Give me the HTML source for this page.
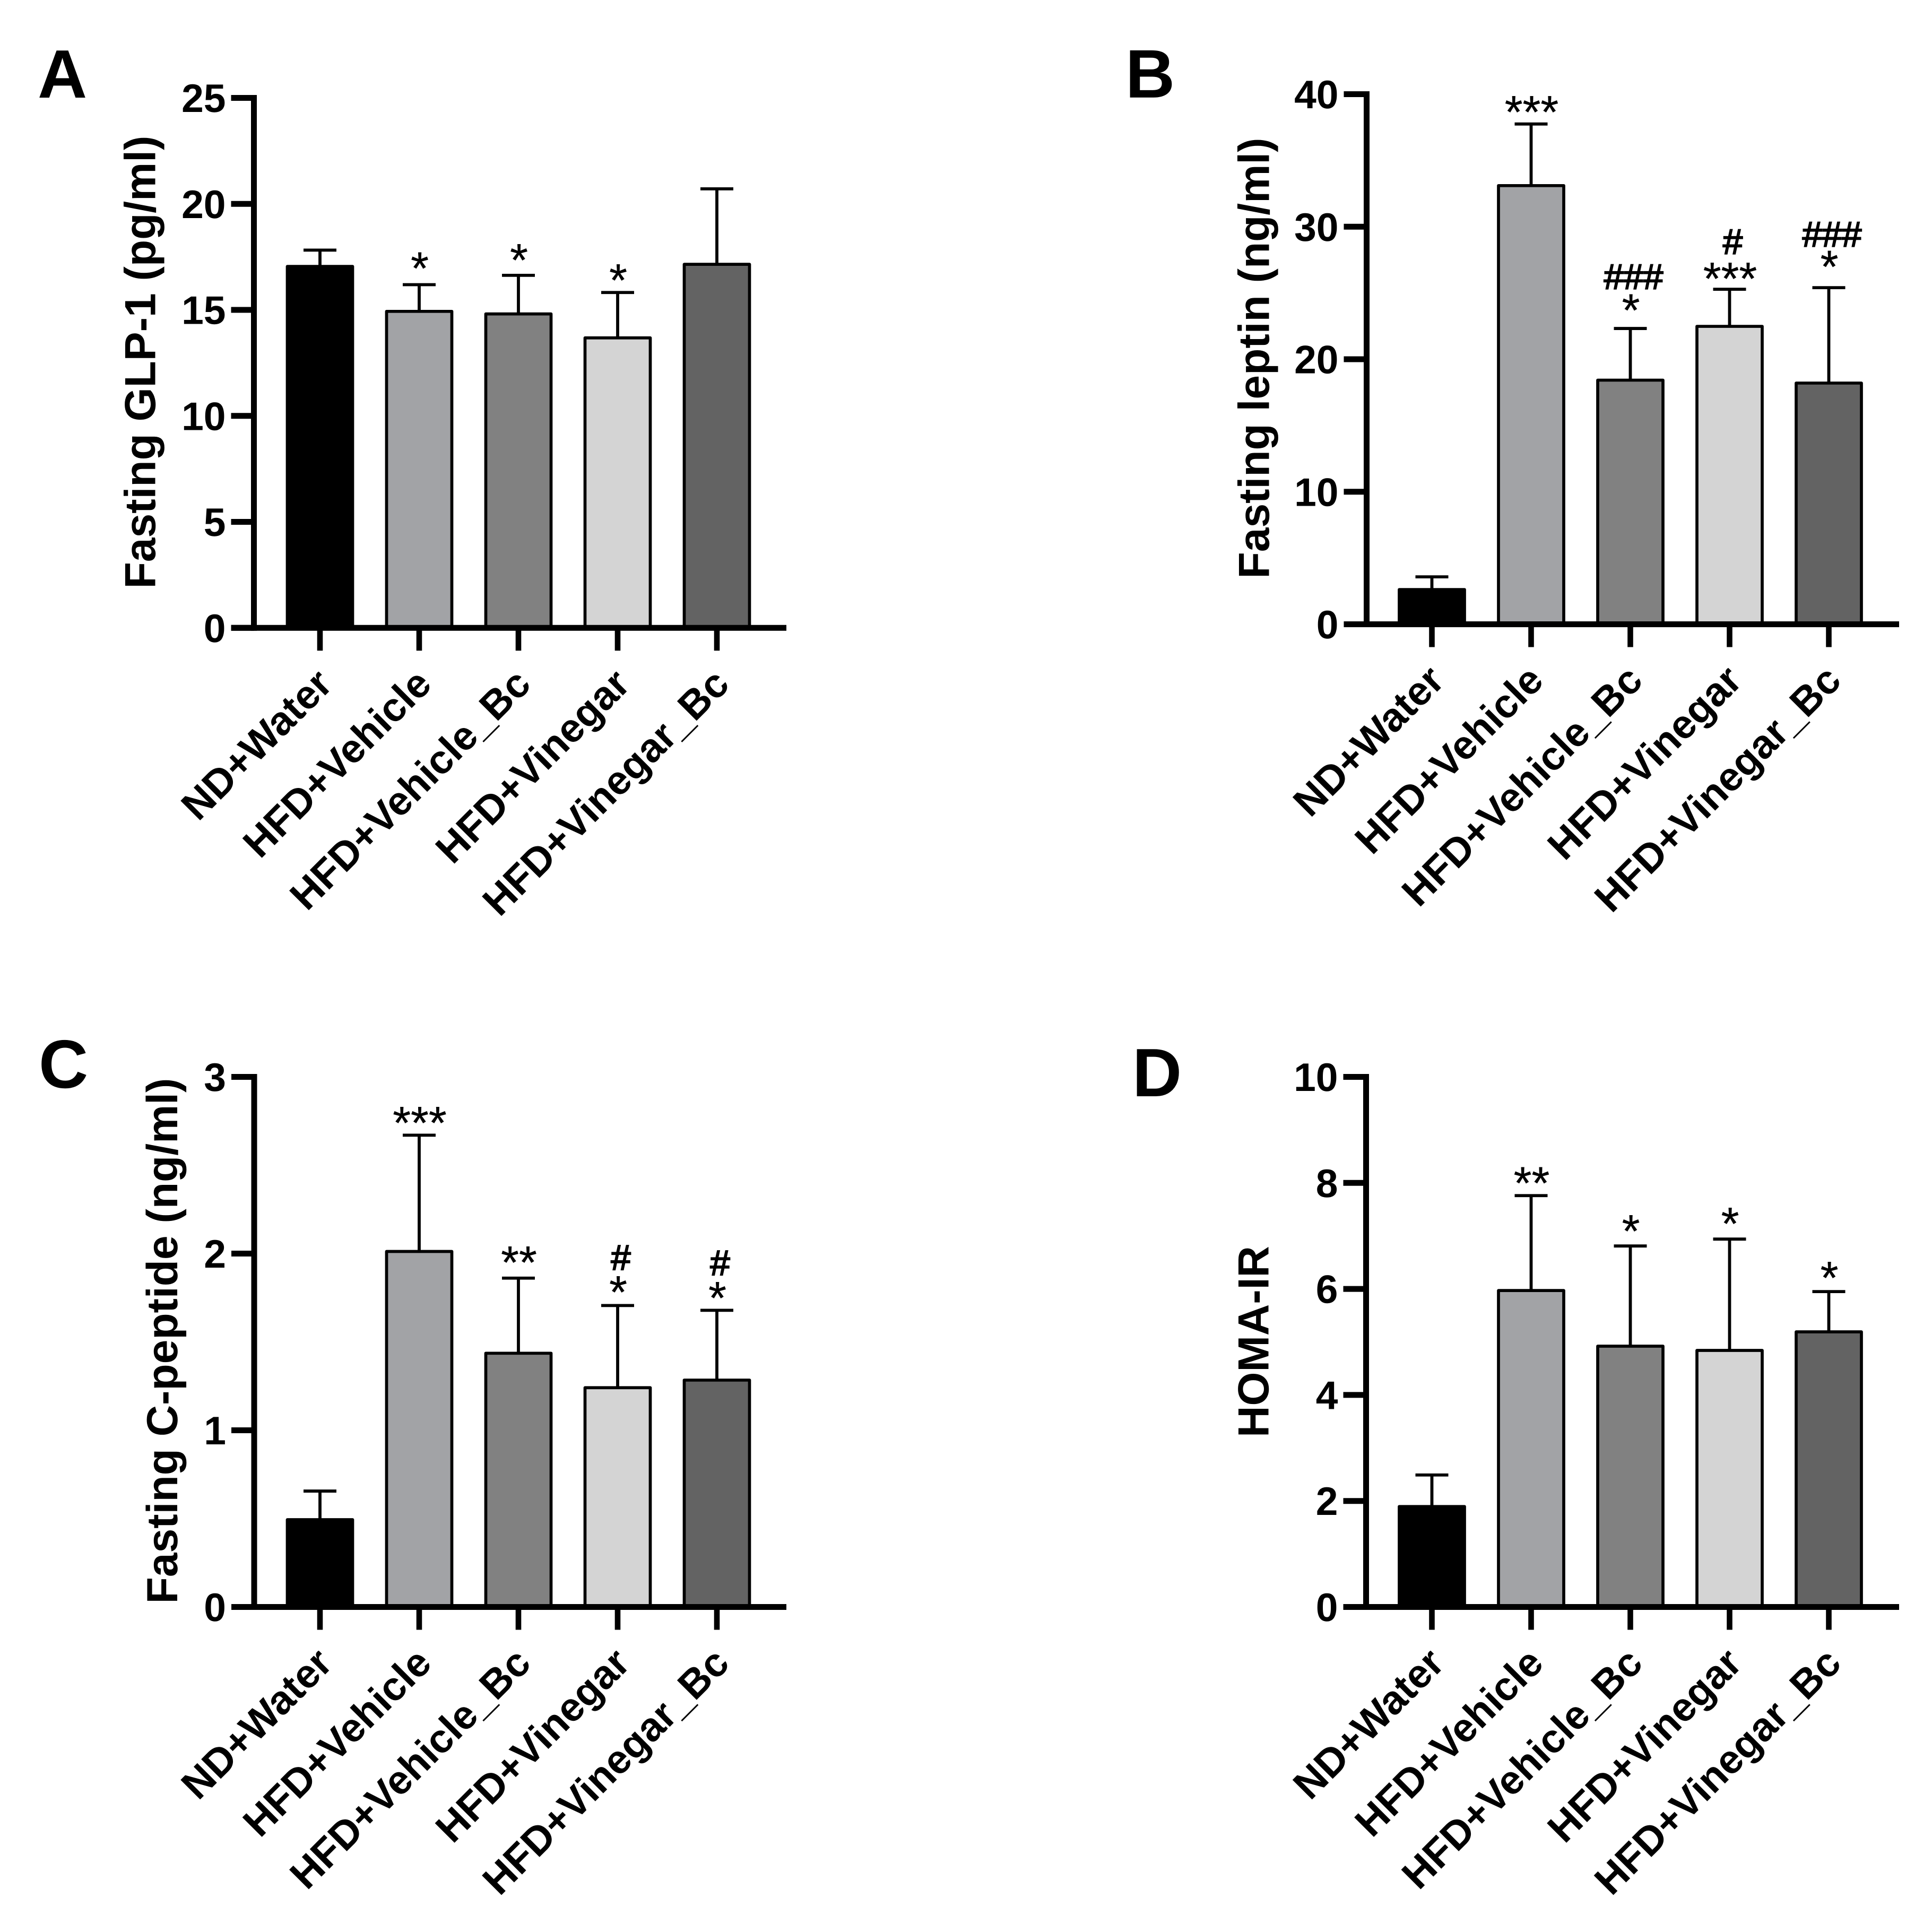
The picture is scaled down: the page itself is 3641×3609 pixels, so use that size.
<!DOCTYPE html>
<html lang="en">
<head>
<meta charset="utf-8">
<title>Fasting metabolic markers by treatment group</title>
<style>
html,body{margin:0;padding:0;background:#fff;}
svg{display:block;}
text{font-family:"Liberation Sans",Arial,sans-serif;fill:#000;text-rendering:geometricPrecision;}
.bold{font-weight:700;}
</style>
</head>
<body>
<svg id="figure" xmlns="http://www.w3.org/2000/svg" width="3641" height="3609" viewBox="0 0 3641 3609">
<rect x="0" y="0" width="3641" height="3609" fill="#ffffff"/>
</svg>
<script>
const categories = ["ND+Water", "HFD+Vehicle", "HFD+Vehicle_Bc", "HFD+Vinegar", "HFD+Vinegar_Bc"];

const glp1Means = [17.05, 14.93, 14.81, 13.68, 17.15];
const glp1Errors = [0.77, 1.26, 1.82, 2.14, 3.56];
const glp1Ticks = [0, 5, 10, 15, 20, 25];
const glp1Marks = ["", "*", "*", "*", ""];
const glp1MarkLevels = [0, 17.17, 17.55, 16.6, 0];
const glp1Hashes = ["", "", "", "", ""];
const glp1HashLevels = [0, 0, 0, 0, 0];

const leptinMeans = [2.62, 33.1, 18.42, 22.48, 18.2];
const leptinErrors = [0.96, 4.65, 3.9, 2.8, 7.2];
const leptinTicks = [0, 10, 20, 30, 40];
const leptinMarks = ["", "***", "*", "***", "*"];
const leptinMarkLevels = [0, 38.97, 24.02, 26.4, 27.3];
const leptinHashes = ["", "", "###", "#", "###"];
const leptinHashLevels = [0, 0, 26.18, 28.82, 29.38];

const cpeptideMeans = [0.494, 2.012, 1.436, 1.241, 1.284];
const cpeptideErrors = [0.162, 0.658, 0.425, 0.465, 0.395];
const cpeptideTicks = [0, 1, 2, 3];
const cpeptideMarks = ["", "***", "**", "*", "*"];
const cpeptideMarkLevels = [0, 2.765, 1.974, 1.806, 1.773];
const cpeptideHashes = ["", "", "", "#", "#"];
const cpeptideHashLevels = [0, 0, 0, 1.974, 1.944];

const homaMeans = [1.895, 5.97, 4.92, 4.84, 5.19];
const homaErrors = [0.595, 1.79, 1.89, 2.1, 0.76];
const homaTicks = [0, 2, 4, 6, 8, 10];
const homaMarks = ["", "**", "*", "*", "*"];
const homaMarkLevels = [0, 8.08, 7.17, 7.31, 6.29];
const homaHashes = ["", "", "", "", ""];
const homaHashLevels = [0, 0, 0, 0, 0];

const barFills = ["#000000", "#a2a3a6", "#818181", "#d4d4d4", "#636363"];

const svgNS = "http://www.w3.org/2000/svg";
const figure = document.getElementById("figure");

function shape(parent, tag, attrs) {
  const el = document.createElementNS(svgNS, tag);
  for (const key in attrs) el.setAttribute(key, attrs[key]);
  parent.appendChild(el);
  return el;
}

function drawPanel(p) {
  const group = shape(figure, "g", {});
  
  

  const yMax = p.ticks[p.ticks.length - 1];
  const yScale = function (v) { return p.y0 - (v / yMax) * (p.y0 - p.yTop); };
  const xScale = function (i) { return p.x0 + i * 187; };

  const letter = shape(group, "text", { x: p.letterX, y: p.letterY, "font-size": 129, "class": "bold" });
  letter.textContent = p.letter;
  
  

  const title = shape(group, "text", {
    x: 0, y: 0, "font-size": 82.2, "class": "bold", "text-anchor": "middle",
    transform: "translate(" + p.titleX + " " + p.titleY + ") rotate(-90)"
  });
  title.textContent = p.title;
  
  

  p.means.forEach(function (mean, i) {
    const cx = xScale(i);
    const top = yScale(mean);
    const cap = yScale(mean + p.errors[i]);

    const stem = shape(group, "line", { x1: cx, x2: cx, y1: top, y2: cap, stroke: "#000", "stroke-width": 5.8 });
    
    

    const capLine = shape(group, "line", { x1: cx - 31, x2: cx + 31, y1: cap, y2: cap, stroke: "#000", "stroke-width": 5.8 });
    
    

    const bar = shape(group, "rect", {
      x: cx - 61.5, y: top, width: 123, height: p.y0 - top,
      fill: barFills[i], stroke: "#000", "stroke-width": 5.7, "stroke-linejoin": "round"
    });
    
    

    if (p.marks[i]) {
      const mark = shape(group, "text", {
        x: cx + 1, y: yScale(p.markLevels[i]) + 38, "font-size": 87, "text-anchor": "middle",
        stroke: "#000", "stroke-width": 0.4
      });
      mark.textContent = p.marks[i];
      
      
    }
    if (p.hashes[i]) {
      const hash = shape(group, "text", {
        x: cx + 6, y: yScale(p.hashLevels[i]) + 22, "font-size": 67, "text-anchor": "middle",
        stroke: "#000", "stroke-width": 2.2
      });
      hash.textContent = p.hashes[i];
      
      
    }

    const tick = shape(group, "line", { x1: cx, x2: cx, y1: p.y0, y2: p.y0 + 43, stroke: "#000", "stroke-width": 10.6 });
    
    

    const label = shape(group, "text", {
      x: 0, y: 0, "font-size": 76, "class": "bold", "text-anchor": "end",
      transform: "translate(" + (cx + 27) + " " + (p.y0 + 110) + ") rotate(-45)"
    });
    label.textContent = categories[i];
    
    
  });

  const yAxis = shape(group, "line", { x1: p.axisX, x2: p.axisX, y1: p.yTop - 5.5, y2: p.y0 + 5.5, stroke: "#000", "stroke-width": 11 });
  
  

  const xAxis = shape(group, "line", { x1: p.axisX - 43, x2: p.axisRight, y1: p.y0, y2: p.y0, stroke: "#000", "stroke-width": 11 });
  
  

  p.ticks.forEach(function (value) {
    const y = yScale(value);
    const tick = shape(group, "line", { x1: p.axisX - 43, x2: p.axisX, y1: y, y2: y, stroke: "#000", "stroke-width": 11 });
    
    

    const tickLabel = shape(group, "text", {
      x: p.axisX - 53, y: y + 26.5, "font-size": 75, "class": "bold", "text-anchor": "end"
    });
    tickLabel.textContent = String(value);
    
    
  });
}

drawPanel({
  letter: "A", title: "Fasting GLP-1 (pg/ml)",
  means: glp1Means, errors: glp1Errors, ticks: glp1Ticks,
  marks: glp1Marks, markLevels: glp1MarkLevels, hashes: glp1Hashes, hashLevels: glp1HashLevels,
  axisX: 478.5, axisRight: 1482, y0: 1183.3, yTop: 184.5, x0: 603,
  letterX: 71, letterY: 184, titleX: 292.7, titleY: 682.5
});
drawPanel({
  letter: "B", title: "Fasting leptin (ng/ml)",
  means: leptinMeans, errors: leptinErrors, ticks: leptinTicks,
  marks: leptinMarks, markLevels: leptinMarkLevels, hashes: leptinHashes, hashLevels: leptinHashLevels,
  axisX: 2575.5, axisRight: 3579, y0: 1176.5, yTop: 177.5, x0: 2698.5,
  letterX: 2121, letterY: 183.7, titleX: 2391.7, titleY: 675
});
drawPanel({
  letter: "C", title: "Fasting C-peptide (ng/ml)",
  means: cpeptideMeans, errors: cpeptideErrors, ticks: cpeptideTicks,
  marks: cpeptideMarks, markLevels: cpeptideMarkLevels, hashes: cpeptideHashes, hashLevels: cpeptideHashLevels,
  axisX: 479, axisRight: 1482, y0: 3028.5, yTop: 2029.5, x0: 603,
  letterX: 73, letterY: 2050, titleX: 334, titleY: 2527
});
drawPanel({
  letter: "D", title: "HOMA-IR",
  means: homaMeans, errors: homaErrors, ticks: homaTicks,
  marks: homaMarks, markLevels: homaMarkLevels, hashes: homaHashes, hashLevels: homaHashLevels,
  axisX: 2574.5, axisRight: 3579, y0: 3028.5, yTop: 2029.5, x0: 2698.5,
  letterX: 2134, letterY: 2066, titleX: 2390.7, titleY: 2528.5
});
</script>
</body>
</html>
